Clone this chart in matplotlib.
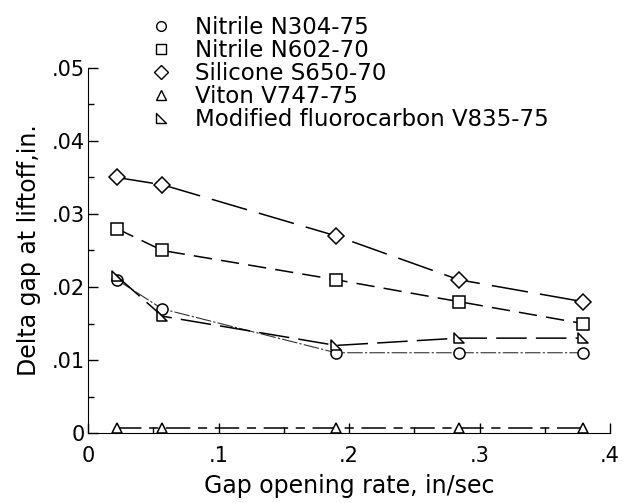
import matplotlib
matplotlib.use("Agg")
import matplotlib.pyplot as plt
from matplotlib.ticker import MultipleLocator, FuncFormatter
from matplotlib.path import Path
import numpy as np

plt.rcParams['font.family'] = ['DejaVu Sans']

rate = [0.022, 0.057, 0.19, 0.284, 0.379]

n304 = [0.021, 0.017, 0.011, 0.011, 0.011]
n602 = [0.028, 0.025, 0.021, 0.018, 0.015]
s650 = [0.035, 0.034, 0.027, 0.021, 0.018]
v747 = [0.0007, 0.0007, 0.0007, 0.0007, 0.0007]
v835 = [0.0215, 0.016, 0.012, 0.013, 0.013]

labels = ['Nitrile N304-75', 'Nitrile N602-70', 'Silicone S650-70',
          'Viton V747-75', 'Modified fluorocarbon V835-75']

# right triangle marker (vertical left side, flat bottom)
rtri = Path([(-1, 1), (-1, -1), (1, -1), (-1, 1)],
            [Path.MOVETO, Path.LINETO, Path.LINETO, Path.CLOSEPOLY])

fig = plt.figure(figsize=(6.23, 5.03), dpi=100)
ax = fig.add_axes([0.1413, 0.139, 0.838, 0.726])

common = dict(color='black', markerfacecolor='white', markeredgecolor='black',
              markersize=8, markeredgewidth=1.1)

l1, = ax.plot(rate, n304, marker='o', lw=0.8, dashes=(14, 2, 2, 2), **common)
l2, = ax.plot(rate, n602, marker='s', lw=1.1, dashes=(12, 6), **common)
l3, = ax.plot(rate, s650, marker='D', lw=1.1, dashes=(24, 8), **common)
common['markersize'] = 7.5
l4, = ax.plot(rate, v747, marker='^', lw=1.1, dashes=(16, 5, 6, 5), **common)
l5, = ax.plot(rate, v835, marker=rtri, lw=1.1, dashes=(20, 6), **common)
l1.set_color('#333333')
l1.set_markeredgecolor('black')

ax.set_xlim(0, 0.4)
ax.set_ylim(0, 0.05)
ax.spines['top'].set_visible(False)
ax.spines['right'].set_visible(False)
ax.xaxis.set_major_locator(MultipleLocator(0.1))
ax.xaxis.set_minor_locator(MultipleLocator(0.05))
ax.yaxis.set_major_locator(MultipleLocator(0.01))
ax.yaxis.set_minor_locator(MultipleLocator(0.005))

def fmt(v, pos):
    if abs(v) < 1e-9:
        return '0'
    return ('%g' % round(v, 3)).lstrip('0')

ax.xaxis.set_major_formatter(FuncFormatter(fmt))
ax.yaxis.set_major_formatter(FuncFormatter(fmt))
ax.tick_params(which='both', direction='in', labelsize=15, width=1)
ax.tick_params(which='major', length=7)
ax.tick_params(which='minor', length=4)
ax.tick_params(axis='x', pad=9)
ax.tick_params(axis='y', pad=2)

ax.set_xlabel('Gap opening rate, in/sec', fontsize=17, labelpad=6)
ax.set_ylabel('Delta gap at liftoff,in.', fontsize=17, labelpad=8)

leg_lines = []
for h in [l1, l2, l3, l4, l5]:
    m = h.get_marker()
    leg_lines.append(plt.Line2D([], [], ls='none', marker=m, color='black',
                                markerfacecolor='white', markersize=7,
                                markeredgewidth=1))
fig.legend(leg_lines, labels, loc='upper left', bbox_to_anchor=(0.222, 0.991),
           frameon=False, fontsize=16.5, handlelength=1.0, handletextpad=0.97,
           labelspacing=0.0, borderpad=0)

fig.savefig('out.png', dpi=100)
